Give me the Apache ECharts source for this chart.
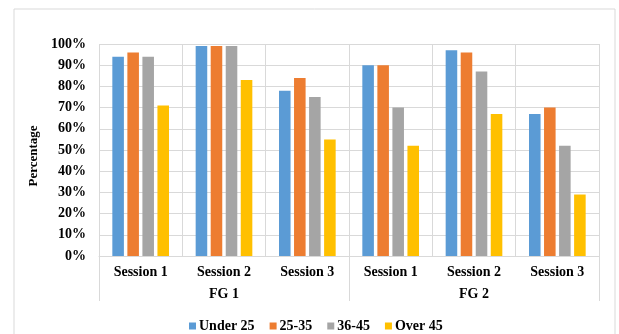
<!DOCTYPE html>
<html>
<head>
<meta charset="utf-8">
<script src="https://cdn.jsdelivr.net/npm/echarts@6/dist/echarts.min.js"></script>
<style>
  html, body { margin: 0; padding: 0; background: #fff; }
  #chart { width: 619px; height: 334px; }
</style>
</head>
<body>
<div id="chart"></div>
<script>
// Session categories along the inner axis and focus groups along the outer axis
const sessions = ['Session 1', 'Session 2', 'Session 3', 'Session 1', 'Session 2', 'Session 3'];
const groups = ['FG 1', 'FG 2'];

// Share of participants (%) per age band
const under25 = [94, 99, 78, 90, 97, 67];
const age25to35 = [96, 99, 84, 90, 96, 70];
const age36to45 = [94, 99, 75, 70, 87, 52];
const over45 = [71, 83, 55, 52, 67, 29];

const seriesNames = ['Under 25', '25-35', '36-45', 'Over 45'];
const seriesData = [under25, age25to35, age36to45, over45];
const colors = ['#5b9bd5', '#ed7d31', '#a5a5a5', '#ffc000'];

const serif = '"Liberation Serif", "Times New Roman", serif';
const gridColor = '#d9d9d9';

const chart = echarts.init(document.getElementById('chart'), null, { renderer: 'canvas' });

chart.setOption({
  animation: false,
  color: colors,
  graphic: [{
    type: 'rect',
    shape: { x: 14, y: 9, width: 601, height: 340 },
    style: { fill: 'none', stroke: '#d9d9d9', lineWidth: 1 },
    silent: true
  }],
  grid: { left: 99, right: 20, top: 44, bottom: 78, containLabel: false },
  legend: {
    top: 314,
    left: 184,
    icon: 'rect',
    itemWidth: 7,
    itemHeight: 7,
    itemGap: 15,
    textStyle: { fontFamily: serif, fontWeight: 'bold', fontSize: 14, color: '#000', padding: [0, 0, 0, -2] },
    data: seriesNames
  },
  xAxis: [
    {
      type: 'category',
      data: sessions,
      position: 'bottom',
      axisLine: { show: true, lineStyle: { color: gridColor } },
      axisTick: { show: false },
      splitLine: { show: true, lineStyle: { color: gridColor } },
      axisLabel: { fontFamily: serif, fontWeight: 'bold', fontSize: 14, color: '#000', margin: 9, interval: 0 }
    },
    {
      type: 'category',
      data: groups,
      position: 'bottom',
      offset: 45,
      axisLine: { show: false },
      axisTick: { show: true, inside: true, length: 45, lineStyle: { color: gridColor } },
      splitLine: { show: false },
      axisLabel: { fontFamily: serif, fontWeight: 'bold', fontSize: 14, color: '#000', margin: -14, interval: 0 }
    }
  ],
  yAxis: {
    type: 'value',
    min: 0,
    max: 100,
    interval: 10,
    name: 'Percentage',
    nameLocation: 'middle',
    nameGap: 55,
    nameRotate: 90,
    nameTextStyle: { fontFamily: serif, fontWeight: 'bold', fontSize: 13, color: '#000', padding: [0, 12, 0, 0] },
    axisLine: { show: false },
    axisTick: { show: false },
    splitLine: { show: true, lineStyle: { color: gridColor } },
    axisLabel: {
      formatter: '{value}%',
      fontFamily: serif, fontWeight: 'bold', fontSize: 14, color: '#000', margin: 13
    }
  },
  series: seriesNames.map((name, i) => ({
    name: name,
    type: 'bar',
    xAxisIndex: 0,
    data: seriesData[i],
    barGap: '30%',
    barCategoryGap: '32%',
    itemStyle: { color: colors[i] }
  }))
});
</script>
</body>
</html>
